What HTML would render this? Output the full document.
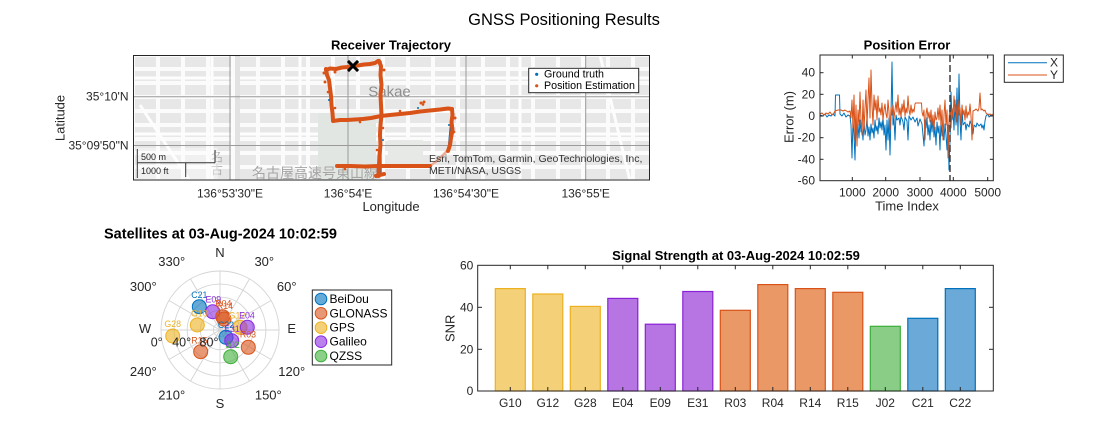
<!DOCTYPE html>
<html><head><meta charset="utf-8">
<style>html,body{margin:0;padding:0;background:#fff;}svg{display:block}</style>
</head>
<body>
<svg width="1098" height="440" viewBox="0 0 1098 440" xmlns="http://www.w3.org/2000/svg" font-family="'Liberation Sans', Arial, sans-serif">
<defs>
  <clipPath id="mapclip"><rect x="133.5" y="55.5" width="516" height="124.5"/></clipPath>
  <clipPath id="peclip"><rect x="820" y="55" width="173.3" height="125.7"/></clipPath>
  <pattern id="blk" x="133" y="55" width="25" height="14" patternUnits="userSpaceOnUse">
    <rect width="25" height="14" fill="#fbfbfb"/>
    <rect x="2" y="2" width="21" height="10" fill="#e7e7e7"/>
  </pattern>
</defs>
<rect width="1098" height="440" fill="#fff"/>

<!-- Main title -->
<text x="564" y="20" font-size="16.5" text-anchor="middle" dominant-baseline="central" fill="#000">GNSS Positioning Results</text>

<!-- ================= MAP ================= -->
<text x="391" y="45" font-size="13" font-weight="bold" text-anchor="middle" dominant-baseline="central" fill="#000">Receiver Trajectory</text>
<g clip-path="url(#mapclip)">
  <rect x="133" y="55" width="517" height="126" fill="url(#blk)"/>
  <!-- major roads -->
  <g stroke="#fdfdfd" stroke-width="3">
    <line x1="140" y1="105" x2="190" y2="181"/>
    <line x1="133" y1="78" x2="650" y2="78"/>
    <line x1="212" y1="55" x2="212" y2="181"/>
    <line x1="300" y1="55" x2="300" y2="181"/>
    <line x1="133" y1="134" x2="650" y2="134"/>
    <line x1="520" y1="55" x2="520" y2="181"/>
    <line x1="600" y1="55" x2="630" y2="181"/>
  </g>
  <rect x="235" y="55" width="5" height="126" fill="#e2e2e2"/>
  <rect x="318" y="113" width="58" height="67" fill="#e2e6e2"/>
  <rect x="388" y="140" width="35" height="27" fill="#e6e9e6"/>
  <text x="389.5" y="92" font-size="15" text-anchor="middle" dominant-baseline="central" fill="#8e8e8e">Sakae</text>
  <text x="252" y="178" font-size="14" fill="#a5a5a5" font-family="'Liberation Sans','Noto Sans CJK JP',sans-serif">名古屋高速号東山線</text>
  <text x="211" y="161" font-size="12" fill="#b0b0b0" font-family="'Liberation Sans','Noto Sans CJK JP',sans-serif">名</text>
  <text x="211" y="174" font-size="12" fill="#b0b0b0" font-family="'Liberation Sans','Noto Sans CJK JP',sans-serif">古</text>
  <!-- grid -->
  <g stroke="#9a9a9a" stroke-width="1">
    <line x1="230" y1="55" x2="230" y2="181"/>
    <line x1="348" y1="55" x2="348" y2="181"/>
    <line x1="466" y1="55" x2="466" y2="181"/>
    <line x1="585.7" y1="55" x2="585.7" y2="181"/>
    <line x1="133" y1="96.7" x2="650" y2="96.7"/>
    <line x1="133" y1="145.5" x2="650" y2="145.5"/>
  </g>
  <!-- scale bar -->
  <rect x="136" y="148" width="82" height="31" fill="#fff" opacity="0.4"/>
  <g stroke="#333" stroke-width="1" fill="none">
    <line x1="137.3" y1="149" x2="137.3" y2="178"/>
    <line x1="137.3" y1="162.7" x2="215" y2="162.7"/>
    <line x1="215" y1="150" x2="215" y2="162.7"/>
    <line x1="185.7" y1="162.7" x2="185.7" y2="177"/>
  </g>
  <text x="141" y="160" font-size="9" fill="#222">500 m</text>
  <text x="141" y="174" font-size="9" fill="#222">1000 ft</text>
  <!-- trajectory: ground truth -->
  <g fill="none" stroke="#0072BD" stroke-width="1.3" stroke-linejoin="round">
    <polyline points="327,70 353,66.5 378,62"/>
    <polyline points="381,61 381,176"/>
    <polyline points="327,70 333,121"/>
    <polyline points="333,121 381,116 452,108.5"/>
    <polyline points="452,109 448,151"/>
    <polyline points="337,166 430,166"/>
  </g>
  <!-- estimation -->
  <g fill="none" stroke="#D95319" stroke-width="4" stroke-linejoin="round" stroke-linecap="round">
    <polyline points="326,70 330,68.5 336,69 342,67.5 348,67 353,66 358,65.5 364,64.5 370,64 375,63 378,61"/>
    <polyline points="379,61 381,66 380.5,75 381.5,85 380.5,95 381,105 381.5,115 380.5,125 380,135 380.5,145 379.5,155 379,165 378.5,176"/>
    <polyline points="326,69 327,75 329,80 330,88 331,96 331.5,105 332.5,113 333,120"/>
    <polyline points="333,121 340,120 347,120 355,119.5 363,119 371,118 381,116 390,115 400,114 410,113 420,111.5 430,110.5 440,109.5 448,108.5 452,109"/>
    <polyline points="452,109 452.5,115 451.5,122 452.5,130 451,138 450,145 448,151"/>
    <polyline points="337,166 350,166 365,166.5 378,166 395,166 412,166 430,166"/>
    <polyline points="376,176 380,175 384,174"/>
  </g>
  <polyline points="430,166 438,160 444,154 447,151" fill="none" stroke="#D95319" stroke-width="2.5" opacity="0.45"/>
  <g fill="#D95319">
    <circle cx="421" cy="103" r="1.5"/><circle cx="424" cy="102" r="1.5"/><circle cx="423" cy="104.5" r="1.3"/>
    <circle cx="324" cy="73" r="1.5"/><circle cx="325" cy="82" r="1.5"/><circle cx="335" cy="72" r="1.5"/>
    <circle cx="455" cy="118" r="1.5"/><circle cx="384" cy="70" r="1.5"/>
    <circle cx="328" cy="92" r="1.3"/><circle cx="335" cy="108" r="1.3"/><circle cx="383" cy="128" r="1.3"/>
    <circle cx="454" cy="132" r="1.3"/><circle cx="360" cy="122" r="1.3"/><circle cx="400" cy="111" r="1.3"/>
    <circle cx="345" cy="169" r="1.3"/><circle cx="377" cy="150" r="1.3"/>
  </g>
  <g fill="#0072BD">
    <circle cx="329" cy="100" r="1"/><circle cx="383" cy="140" r="1"/><circle cx="418" cy="108" r="1"/><circle cx="449" cy="125" r="1"/>
  </g>
  <!-- X marker -->
  <g stroke="#000" stroke-width="3" stroke-linecap="square">
    <line x1="349" y1="62" x2="357" y2="70"/>
    <line x1="357" y1="62" x2="349" y2="70"/>
  </g>
  <!-- attribution -->
  <text x="429" y="162" font-size="10.5" fill="#333">Esri, TomTom, Garmin, GeoTechnologies, Inc,</text>
  <text x="429" y="174" font-size="10.5" fill="#333">METI/NASA, USGS</text>
  <!-- legend -->
  <rect x="528.7" y="68.3" width="110" height="24.4" fill="#fff" stroke="#262626" stroke-width="1"/>
  <circle cx="536.7" cy="74.3" r="1.6" fill="#0072BD"/>
  <circle cx="536.7" cy="85.8" r="1.6" fill="#D95319"/>
  <text x="544" y="74.5" font-size="10.7" dominant-baseline="central" fill="#000">Ground truth</text>
  <text x="544" y="86" font-size="10.7" dominant-baseline="central" fill="#000">Position Estimation</text>
</g>
<rect x="133.5" y="55.5" width="516" height="124.5" fill="none" stroke="#262626" stroke-width="1"/>
<g font-size="12" fill="#262626" text-anchor="middle" dominant-baseline="central">
  <text x="230" y="193.3">136°53'30"E</text>
  <text x="348" y="193.3">136°54'E</text>
  <text x="466" y="193.3">136°54'30"E</text>
  <text x="585.7" y="193.3">136°55'E</text>
</g>
<g font-size="12" fill="#262626" text-anchor="end" dominant-baseline="central">
  <text x="128.5" y="96.7">35°10'N</text>
  <text x="128.5" y="145.5">35°09'50"N</text>
</g>
<text x="391" y="206.5" font-size="13" text-anchor="middle" dominant-baseline="central" fill="#262626">Longitude</text>
<text transform="translate(60,118) rotate(-90)" font-size="13" text-anchor="middle" dominant-baseline="central" fill="#262626">Latitude</text>

<!-- ================= POSITION ERROR ================= -->
<text x="907" y="45" font-size="13" font-weight="bold" text-anchor="middle" dominant-baseline="central" fill="#000">Position Error</text>
<g clip-path="url(#peclip)" fill="none" stroke-width="1" stroke-linejoin="round">
  <polyline stroke="#0072BD" points="820,115 823,116 825,114 827,117 829,115 831,116 833,114 835,116 835.5,95 839.5,95 840,114 842,116 844,113 846,117 848,115 850,116 851,125 852,158 853,120 854,135 855,160 856,118 857,140 858,125 859,138 860,120 861,132 862,128 863,140 864,122 865,135 866,130 867,118 868,136 869,127 870,140 871,124 872,133 873,128 874,138 875,120 876,131 877,126 878,134 879,118 880,128 881,122 882,130 883,117 884,135 885,125 886,150 887,120 888,140 889,118 890,155 891,115 892,62 893,125 894,118 895,140 896,115 897,120 899,118 900,125 901,116 903,122 904,130 905,117 907,121 908,140 909,116 911,120 913,117 915,122 917,118 918,126 920,119 922,124 924,146 925,120 926,128 927,118 928,135 929,125 930,140 931,120 932,132 933,118 934,137 935,127 936,145 937,122 938,133 939,126 940,150 941,121 942,136 943,128 944,140 945,124 946,135 947,150 948,125 949,170 950,140 951,92 952,120 953,110 954,130 955,100 956,125 957,88 958,135 959,74 960,120 961,140 962,110 963,125 965,122 966,130 967,124 969,127 970,121 972,126 973,134 974,125 976,127 977,123 979,126 981,124 982,128 983,125 984,130 985,121 986,116 988,114 989,117 991,115 993,116"/>
  <polyline stroke="#D95319" points="820,114 822,113 824,115 826,113 828,114 830,112 832,115 834,113 835,111 838,110 841,110 843,111 845,110 848,112 850,111 851,118 852,100 853,128 854,95 855,140 856,105 857,146 858,110 859,125 860,92 861,120 862,135 863,100 864,130 865,108 866,90 867,125 868,100 869,78 870,118 871,70 872,105 873,125 874,95 875,110 876,100 877,120 878,96 879,112 880,108 881,115 882,103 883,120 884,110 885,104 886,114 887,118 888,100 889,112 890,130 891,108 892,115 893,105 894,118 895,110 896,102 897,112 898,95 899,115 900,108 901,117 902,104 903,112 904,100 905,116 906,108 907,113 908,96 909,110 910,115 911,105 912,113 913,109 914,112 915,104 915.5,103 921.5,103 922,112 923,116 924,110 925,140 926,114 927,108 928,118 929,112 930,122 931,110 932,125 933,115 934,130 935,112 936,120 937,118 938,108 939,120 940,105 941,125 942,110 943,140 944,115 945,100 946,125 947,110 948,158 949,120 950,105 951,128 952,108 953,118 954,96 955,112 956,105 957,122 958,100 959,115 960,108 961,125 962,105 963,115 964,110 965,120 966,106 967,118 968,112 969,115 970,104 971,116 972,140 973,111 975,110 976,109 978,111 979,108 980,93 981,110 982,109 984,111 985,110 986,113 988,115 990,114 992,115 993,114"/>
  <line x1="950" y1="55" x2="950" y2="181" stroke="#404040" stroke-width="1.5" stroke-dasharray="7,3"/>
</g>
<rect x="820" y="55" width="173.3" height="125.7" fill="none" stroke="#262626" stroke-width="1"/>
<g stroke="#262626" stroke-width="1">
  <line x1="852.3" y1="180.7" x2="852.3" y2="177"/><line x1="885.7" y1="180.7" x2="885.7" y2="177"/><line x1="920" y1="180.7" x2="920" y2="177"/><line x1="953.3" y1="180.7" x2="953.3" y2="177"/><line x1="987.7" y1="180.7" x2="987.7" y2="177"/>
  <line x1="852.3" y1="55" x2="852.3" y2="58.5"/><line x1="885.7" y1="55" x2="885.7" y2="58.5"/><line x1="920" y1="55" x2="920" y2="58.5"/><line x1="953.3" y1="55" x2="953.3" y2="58.5"/><line x1="987.7" y1="55" x2="987.7" y2="58.5"/>
  <line x1="820" y1="72.7" x2="823.5" y2="72.7"/><line x1="820" y1="94.3" x2="823.5" y2="94.3"/><line x1="820" y1="116" x2="823.5" y2="116"/><line x1="820" y1="137.7" x2="823.5" y2="137.7"/><line x1="820" y1="159.3" x2="823.5" y2="159.3"/>
  <line x1="993.3" y1="72.7" x2="989.8" y2="72.7"/><line x1="993.3" y1="94.3" x2="989.8" y2="94.3"/><line x1="993.3" y1="116" x2="989.8" y2="116"/><line x1="993.3" y1="137.7" x2="989.8" y2="137.7"/><line x1="993.3" y1="159.3" x2="989.8" y2="159.3"/>
</g>
<g font-size="12" fill="#262626" text-anchor="end" dominant-baseline="central">
  <text x="815" y="72.7">40</text><text x="815" y="94.3">20</text><text x="815" y="116">0</text>
  <text x="815" y="137.7">-20</text><text x="815" y="159.3">-40</text><text x="815" y="180.7">-60</text>
</g>
<g font-size="12" fill="#262626" text-anchor="middle" dominant-baseline="central">
  <text x="852.3" y="192.7">1000</text><text x="885.7" y="192.7">2000</text><text x="920" y="192.7">3000</text><text x="953.3" y="192.7">4000</text><text x="987.7" y="192.7">5000</text>
</g>
<text x="907" y="206" font-size="13" text-anchor="middle" dominant-baseline="central" fill="#262626">Time Index</text>
<text transform="translate(789,117) rotate(-90)" font-size="13" text-anchor="middle" dominant-baseline="central" fill="#262626">Error (m)</text>
<rect x="1004.3" y="55" width="59" height="27.3" fill="#fff" stroke="#262626" stroke-width="1"/>
<line x1="1008" y1="62.7" x2="1047" y2="62.7" stroke="#0072BD" stroke-width="1"/>
<line x1="1008" y1="75" x2="1047" y2="75" stroke="#D95319" stroke-width="1"/>
<text x="1050" y="62.7" font-size="12" dominant-baseline="central" fill="#262626">X</text>
<text x="1050" y="75" font-size="12" dominant-baseline="central" fill="#262626">Y</text>

<!-- ================= SKYPLOT ================= -->
<text x="104" y="234.5" font-size="14.5" font-weight="bold" dominant-baseline="central" fill="#000">Satellites at 03-Aug-2024 10:02:59</text>
<g fill="none" stroke="#d4d4d4" stroke-width="0.9">
  <circle cx="220" cy="330" r="59"/>
  <circle cx="220" cy="330" r="45.9"/>
  <circle cx="220" cy="330" r="32.8"/>
  <circle cx="220" cy="330" r="19.7"/>
  <circle cx="220" cy="330" r="6.6"/>
  <line x1="220" y1="271" x2="220" y2="389"/>
  <line x1="161" y1="330" x2="279" y2="330"/>
  <line x1="249.5" y1="278.9" x2="190.5" y2="381.1"/>
  <line x1="271.1" y1="300.5" x2="168.9" y2="359.5"/>
  <line x1="271.1" y1="359.5" x2="168.9" y2="300.5"/>
  <line x1="249.5" y1="381.1" x2="190.5" y2="278.9"/>
</g>
<g font-size="13" fill="#262626" text-anchor="middle" dominant-baseline="central">
  <text x="220" y="252.3">N</text>
  <text x="264.3" y="261.7">30°</text>
  <text x="286.7" y="286.7">60°</text>
  <text x="291.7" y="328.3">E</text>
  <text x="291.7" y="371.7">120°</text>
  <text x="268.3" y="395">150°</text>
  <text x="220" y="403.3">S</text>
  <text x="171.7" y="395">210°</text>
  <text x="143.3" y="371.7">240°</text>
  <text x="145" y="328.3">W</text>
  <text x="143.3" y="286.7">300°</text>
  <text x="171.7" y="261.7">330°</text>
</g>
<g stroke-width="1">
  <circle cx="199.3" cy="306.7" r="7" fill="#0072BD" fill-opacity="0.6" stroke="#0072BD"/>
  <circle cx="226" cy="337.3" r="7" fill="#0072BD" fill-opacity="0.6" stroke="#0072BD"/>
  <circle cx="197.3" cy="325" r="7" fill="#EDB120" fill-opacity="0.6" stroke="#EDB120"/>
  <circle cx="240" cy="327.3" r="7" fill="#EDB120" fill-opacity="0.6" stroke="#EDB120"/>
  <circle cx="172.7" cy="336" r="7" fill="#EDB120" fill-opacity="0.6" stroke="#EDB120"/>
  <circle cx="212.7" cy="311.7" r="7" fill="#8A2BE2" fill-opacity="0.6" stroke="#8A2BE2"/>
  <circle cx="247.3" cy="327.3" r="7" fill="#8A2BE2" fill-opacity="0.6" stroke="#8A2BE2"/>
  <circle cx="231.7" cy="340.7" r="7" fill="#8A2BE2" fill-opacity="0.6" stroke="#8A2BE2"/>
  <circle cx="248.3" cy="347.3" r="7" fill="#D95319" fill-opacity="0.6" stroke="#D95319"/>
  <circle cx="222.7" cy="316.7" r="7" fill="#D95319" fill-opacity="0.6" stroke="#D95319"/>
  <circle cx="224" cy="319" r="7" fill="#D95319" fill-opacity="0.6" stroke="#D95319"/>
  <circle cx="200.7" cy="351.7" r="7" fill="#D95319" fill-opacity="0.6" stroke="#D95319"/>
  <circle cx="230.7" cy="356.7" r="7" fill="#3DAF3A" fill-opacity="0.6" stroke="#3DAF3A"/>
</g>
<g font-size="8.8" text-anchor="middle" dominant-baseline="central">
  <text x="199.3" y="295" fill="#0072BD">C21</text>
  <text x="226" y="325" fill="#0072BD">C22</text>
  <text x="199.3" y="313.3" fill="#EDB120">G10</text>
  <text x="237" y="315.7" fill="#EDB120">G12</text>
  <text x="172.7" y="324" fill="#EDB120">G28</text>
  <text x="213.3" y="299.3" fill="#8A2BE2">E09</text>
  <text x="247" y="315.7" fill="#8A2BE2">E04</text>
  <text x="232" y="329" fill="#8A2BE2">E31</text>
  <text x="248" y="334.3" fill="#D95319">R03</text>
  <text x="223.3" y="303.3" fill="#D95319">R04</text>
  <text x="225" y="306" fill="#D95319">R14</text>
  <text x="199.3" y="340.7" fill="#D95319">R15</text>
  <text x="232.7" y="345" fill="#3DAF3A">J02</text>
</g>
<g font-size="12.5" fill="#262626" text-anchor="middle" dominant-baseline="central">
  <text x="156.7" y="342.7">0°</text>
  <text x="181.7" y="342.7">40°</text>
  <text x="209" y="342.3">80°</text>
</g>
<rect x="312.3" y="290" width="79.4" height="75" fill="#fff" stroke="#262626" stroke-width="1"/>
<circle cx="321" cy="299" r="5.8" fill="#0072BD" fill-opacity="0.6" stroke="#0072BD"/>
<circle cx="321" cy="313.3" r="5.8" fill="#D95319" fill-opacity="0.6" stroke="#D95319"/>
<circle cx="321" cy="327.7" r="5.8" fill="#EDB120" fill-opacity="0.6" stroke="#EDB120"/>
<circle cx="321" cy="341.7" r="5.8" fill="#8A2BE2" fill-opacity="0.6" stroke="#8A2BE2"/>
<circle cx="321" cy="356" r="5.8" fill="#3DAF3A" fill-opacity="0.6" stroke="#3DAF3A"/>
<g font-size="12" fill="#000" dominant-baseline="central">
  <text x="329.5" y="299">BeiDou</text>
  <text x="329.5" y="313.3">GLONASS</text>
  <text x="329.5" y="327.7">GPS</text>
  <text x="329.5" y="341.7">Galileo</text>
  <text x="329.5" y="356">QZSS</text>
</g>

<!-- ================= BAR CHART ================= -->
<text x="736" y="255.5" font-size="13" font-weight="bold" text-anchor="middle" dominant-baseline="central" fill="#000">Signal Strength at 03-Aug-2024 10:02:59</text>
<g stroke-width="1.2">
  <rect x="495.3" y="288.6" width="30" height="102.4" fill="#F4D079" stroke="#EDB120"/>
  <rect x="532.8" y="294.0" width="30" height="97" fill="#F4D079" stroke="#EDB120"/>
  <rect x="570.3" y="306.4" width="30" height="84.6" fill="#F4D079" stroke="#EDB120"/>
  <rect x="607.8" y="298.4" width="30" height="92.6" fill="#B675E3" stroke="#8A22D8"/>
  <rect x="645.3" y="324.2" width="30" height="66.8" fill="#B675E3" stroke="#8A22D8"/>
  <rect x="682.8" y="291.5" width="30" height="99.5" fill="#B675E3" stroke="#8A22D8"/>
  <rect x="720.3" y="310.3" width="30" height="80.7" fill="#EA9866" stroke="#D95319"/>
  <rect x="757.8" y="284.6" width="30" height="106.4" fill="#EA9866" stroke="#D95319"/>
  <rect x="795.3" y="288.6" width="30" height="102.4" fill="#EA9866" stroke="#D95319"/>
  <rect x="832.8" y="292.3" width="30" height="98.7" fill="#EA9866" stroke="#D95319"/>
  <rect x="870.3" y="326.3" width="30" height="64.7" fill="#8ACD87" stroke="#3DAF3A"/>
  <rect x="907.8" y="318.3" width="30" height="72.7" fill="#6BA9D8" stroke="#0072BD"/>
  <rect x="945.3" y="288.6" width="30" height="102.4" fill="#6BA9D8" stroke="#0072BD"/>
</g>
<rect x="477.7" y="265.3" width="515.6" height="125.7" fill="none" stroke="#262626" stroke-width="1"/>
<g stroke="#262626" stroke-width="1">
  <line x1="510.3" y1="391" x2="510.3" y2="387"/><line x1="547.8" y1="391" x2="547.8" y2="387"/><line x1="585.3" y1="391" x2="585.3" y2="387"/><line x1="622.8" y1="391" x2="622.8" y2="387"/><line x1="660.3" y1="391" x2="660.3" y2="387"/><line x1="697.8" y1="391" x2="697.8" y2="387"/><line x1="735.3" y1="391" x2="735.3" y2="387"/><line x1="772.8" y1="391" x2="772.8" y2="387"/><line x1="810.3" y1="391" x2="810.3" y2="387"/><line x1="847.8" y1="391" x2="847.8" y2="387"/><line x1="885.3" y1="391" x2="885.3" y2="387"/><line x1="922.8" y1="391" x2="922.8" y2="387"/><line x1="960.3" y1="391" x2="960.3" y2="387"/>
  <line x1="510.3" y1="265.3" x2="510.3" y2="269.3"/><line x1="547.8" y1="265.3" x2="547.8" y2="269.3"/><line x1="585.3" y1="265.3" x2="585.3" y2="269.3"/><line x1="622.8" y1="265.3" x2="622.8" y2="269.3"/><line x1="660.3" y1="265.3" x2="660.3" y2="269.3"/><line x1="697.8" y1="265.3" x2="697.8" y2="269.3"/><line x1="735.3" y1="265.3" x2="735.3" y2="269.3"/><line x1="772.8" y1="265.3" x2="772.8" y2="269.3"/><line x1="810.3" y1="265.3" x2="810.3" y2="269.3"/><line x1="847.8" y1="265.3" x2="847.8" y2="269.3"/><line x1="885.3" y1="265.3" x2="885.3" y2="269.3"/><line x1="922.8" y1="265.3" x2="922.8" y2="269.3"/><line x1="960.3" y1="265.3" x2="960.3" y2="269.3"/>
  <line x1="477.7" y1="307.3" x2="482" y2="307.3"/><line x1="477.7" y1="349.3" x2="482" y2="349.3"/>
  <line x1="993.3" y1="307.3" x2="989" y2="307.3"/><line x1="993.3" y1="349.3" x2="989" y2="349.3"/>
</g>
<g font-size="12" fill="#262626" text-anchor="end" dominant-baseline="central">
  <text x="473.3" y="265.3">60</text><text x="473.3" y="307.3">40</text><text x="473.3" y="349.3">20</text><text x="473.3" y="391">0</text>
</g>
<g font-size="12" fill="#262626" text-anchor="middle" dominant-baseline="central">
  <text x="510.3" y="403">G10</text><text x="547.8" y="403">G12</text><text x="585.3" y="403">G28</text><text x="622.8" y="403">E04</text><text x="660.3" y="403">E09</text><text x="697.8" y="403">E31</text><text x="735.3" y="403">R03</text><text x="772.8" y="403">R04</text><text x="810.3" y="403">R14</text><text x="847.8" y="403">R15</text><text x="885.3" y="403">J02</text><text x="922.8" y="403">C21</text><text x="960.3" y="403">C22</text>
</g>
<text transform="translate(450,328.3) rotate(-90)" font-size="13" text-anchor="middle" dominant-baseline="central" fill="#262626">SNR</text>
</svg>
</body>
</html>
